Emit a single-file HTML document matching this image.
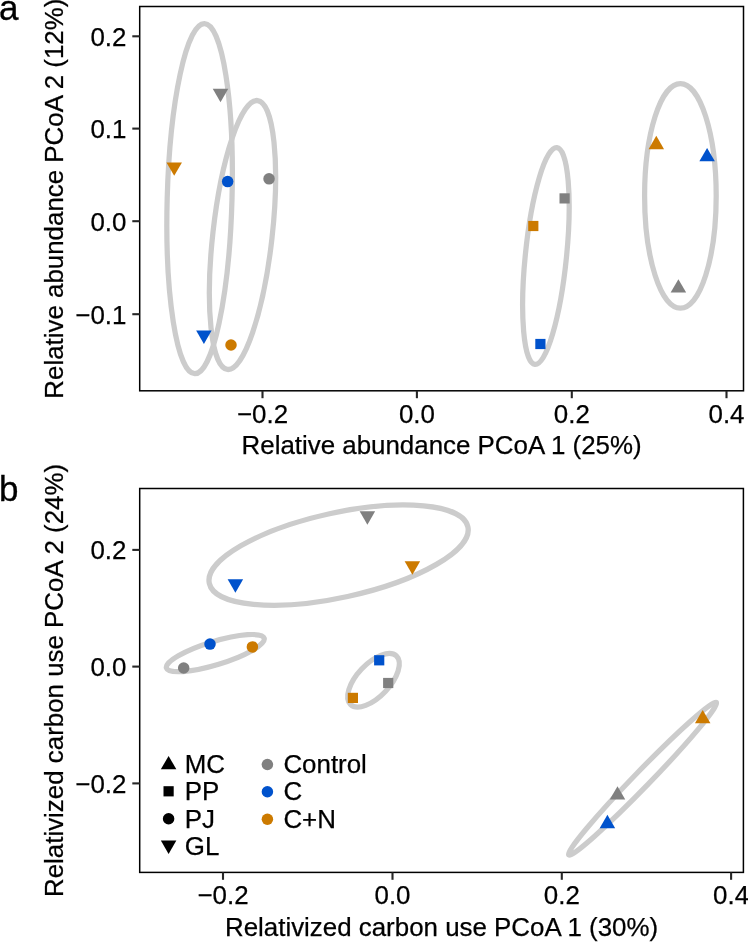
<!DOCTYPE html>
<html><head><meta charset="utf-8"><style>
html,body{margin:0;padding:0;background:#fff;}
body{width:748px;height:942px;overflow:hidden;}
svg{display:block;}
svg{will-change:transform;}
.t{font-family:"Liberation Sans",sans-serif;font-size:25.9px;fill:#000;stroke:#000;stroke-width:0.25px;}
.lab{font-family:"Liberation Sans",sans-serif;font-size:35px;fill:#000;stroke:#000;stroke-width:0.3px;}
</style></head><body>
<svg width="748" height="942" viewBox="0 0 748 942">
<rect width="748" height="942" fill="#fff"/>
<ellipse cx="199.60" cy="198.70" rx="175.07" ry="32.40" transform="rotate(91.59 199.60 198.70)" fill="none" stroke="#CCCCCC" stroke-width="5.25"/>
<ellipse cx="242.50" cy="235.00" rx="135.30" ry="29.65" transform="rotate(96.40 242.50 235.00)" fill="none" stroke="#CCCCCC" stroke-width="5.25"/>
<ellipse cx="545.90" cy="256.00" rx="108.94" ry="20.59" transform="rotate(95.79 545.90 256.00)" fill="none" stroke="#CCCCCC" stroke-width="5.25"/>
<ellipse cx="680.40" cy="195.90" rx="112.30" ry="35.80" transform="rotate(90.00 680.40 195.90)" fill="none" stroke="#CCCCCC" stroke-width="5.25"/>
<polygon points="220.50,102.15 228.25,88.73 212.75,88.73" fill="#808080"/>
<polygon points="174.20,175.85 181.95,162.43 166.45,162.43" fill="#CC7A00"/>
<circle cx="227.65" cy="181.60" r="5.75" fill="#0052CC"/>
<circle cx="269.05" cy="178.85" r="5.75" fill="#808080"/>
<polygon points="203.90,343.95 211.65,330.53 196.15,330.53" fill="#0052CC"/>
<circle cx="231.00" cy="345.00" r="5.75" fill="#CC7A00"/>
<rect x="528.20" y="220.90" width="10.20" height="10.20" fill="#CC7A00"/>
<rect x="559.50" y="193.30" width="10.20" height="10.20" fill="#808080"/>
<rect x="535.30" y="338.90" width="10.20" height="10.20" fill="#0052CC"/>
<polygon points="656.30,135.85 664.05,149.27 648.55,149.27" fill="#CC7A00"/>
<polygon points="707.10,147.90 714.85,161.32 699.35,161.32" fill="#0052CC"/>
<polygon points="678.40,279.15 686.15,292.57 670.65,292.57" fill="#808080"/>
<rect x="139.7" y="6.5" width="603.8" height="384.3" fill="none" stroke="#000" stroke-width="1.5"/>
<line x1="262.5" y1="390.8" x2="262.5" y2="398.2" stroke="#262626" stroke-width="2.1"/>
<text x="262.5" y="422.5" text-anchor="middle" class="t">−0.2</text>
<line x1="416.9" y1="390.8" x2="416.9" y2="398.2" stroke="#262626" stroke-width="2.1"/>
<text x="416.9" y="422.5" text-anchor="middle" class="t">0.0</text>
<line x1="571.8" y1="390.8" x2="571.8" y2="398.2" stroke="#262626" stroke-width="2.1"/>
<text x="571.8" y="422.5" text-anchor="middle" class="t">0.2</text>
<line x1="726.5" y1="390.8" x2="726.5" y2="398.2" stroke="#262626" stroke-width="2.1"/>
<text x="726.5" y="422.5" text-anchor="middle" class="t">0.4</text>
<line x1="132.29999999999998" y1="36.3" x2="139.7" y2="36.3" stroke="#262626" stroke-width="2.1"/>
<text x="126.4" y="45.6" text-anchor="end" class="t">0.2</text>
<line x1="132.29999999999998" y1="128.6" x2="139.7" y2="128.6" stroke="#262626" stroke-width="2.1"/>
<text x="126.4" y="137.9" text-anchor="end" class="t">0.1</text>
<line x1="132.29999999999998" y1="221.2" x2="139.7" y2="221.2" stroke="#262626" stroke-width="2.1"/>
<text x="126.4" y="230.5" text-anchor="end" class="t">0.0</text>
<line x1="132.29999999999998" y1="314.2" x2="139.7" y2="314.2" stroke="#262626" stroke-width="2.1"/>
<text x="126.4" y="323.5" text-anchor="end" class="t">−0.1</text>
<text x="441.6" y="453.7" text-anchor="middle" class="t">Relative abundance PCoA 1 (25%)</text>
<text transform="translate(62.8 198.65) rotate(-90)" x="0" y="0" text-anchor="middle" class="t">Relative abundance PCoA 2 (12%)</text>
<text x="-1" y="19.6" class="lab">a</text>
<ellipse cx="338.60" cy="555.10" rx="132.34" ry="42.34" transform="rotate(167.67 338.60 555.10)" fill="none" stroke="#CCCCCC" stroke-width="5.25"/>
<ellipse cx="215.30" cy="653.10" rx="51.10" ry="11.65" transform="rotate(163.06 215.30 653.10)" fill="none" stroke="#CCCCCC" stroke-width="5.25"/>
<ellipse cx="373.50" cy="680.25" rx="33.38" ry="16.34" transform="rotate(133.31 373.50 680.25)" fill="none" stroke="#CCCCCC" stroke-width="5.25"/>
<ellipse cx="642.55" cy="778.70" rx="106.15" ry="7.82" transform="rotate(134.08 642.55 778.70)" fill="none" stroke="#CCCCCC" stroke-width="5.25"/>
<polygon points="367.40,524.65 375.15,511.23 359.65,511.23" fill="#808080"/>
<polygon points="235.40,592.75 243.15,579.33 227.65,579.33" fill="#0052CC"/>
<polygon points="412.40,574.75 420.15,561.33 404.65,561.33" fill="#CC7A00"/>
<circle cx="210.00" cy="644.10" r="5.75" fill="#0052CC"/>
<circle cx="252.40" cy="646.90" r="5.75" fill="#CC7A00"/>
<circle cx="183.70" cy="668.00" r="5.75" fill="#808080"/>
<rect x="374.10" y="655.20" width="10.20" height="10.20" fill="#0052CC"/>
<rect x="383.10" y="677.90" width="10.20" height="10.20" fill="#808080"/>
<rect x="347.80" y="692.80" width="10.20" height="10.20" fill="#CC7A00"/>
<polygon points="702.70,709.90 710.45,723.32 694.95,723.32" fill="#CC7A00"/>
<polygon points="617.50,786.15 625.25,799.57 609.75,799.57" fill="#808080"/>
<polygon points="607.40,814.75 615.15,828.17 599.65,828.17" fill="#0052CC"/>
<rect x="139.7" y="488.5" width="603.7" height="383.9" fill="none" stroke="#000" stroke-width="1.5"/>
<line x1="223.0" y1="872.4" x2="223.0" y2="879.8" stroke="#262626" stroke-width="2.1"/>
<text x="223.0" y="904.0" text-anchor="middle" class="t">−0.2</text>
<line x1="392.5" y1="872.4" x2="392.5" y2="879.8" stroke="#262626" stroke-width="2.1"/>
<text x="392.5" y="904.0" text-anchor="middle" class="t">0.0</text>
<line x1="561.8" y1="872.4" x2="561.8" y2="879.8" stroke="#262626" stroke-width="2.1"/>
<text x="561.8" y="904.0" text-anchor="middle" class="t">0.2</text>
<line x1="731.1" y1="872.4" x2="731.1" y2="879.8" stroke="#262626" stroke-width="2.1"/>
<text x="731.1" y="904.0" text-anchor="middle" class="t">0.4</text>
<line x1="132.29999999999998" y1="549.9" x2="139.7" y2="549.9" stroke="#262626" stroke-width="2.1"/>
<text x="126.4" y="559.2" text-anchor="end" class="t">0.2</text>
<line x1="132.29999999999998" y1="666.6" x2="139.7" y2="666.6" stroke="#262626" stroke-width="2.1"/>
<text x="126.4" y="675.9" text-anchor="end" class="t">0.0</text>
<line x1="132.29999999999998" y1="783.4" x2="139.7" y2="783.4" stroke="#262626" stroke-width="2.1"/>
<text x="126.4" y="792.7" text-anchor="end" class="t">−0.2</text>
<text x="441.54999999999995" y="935.5" text-anchor="middle" class="t">Relativized carbon use PCoA 1 (30%)</text>
<text transform="translate(62.8 680.45) rotate(-90)" x="0" y="0" text-anchor="middle" class="t">Relativized carbon use PCoA 2 (24%)</text>
<text x="-1" y="500.5" class="lab">b</text>
<polygon points="168.60,755.90 176.35,769.32 160.85,769.32" fill="#000"/>
<text x="184.8" y="773.0" class="t">MC</text>
<rect x="163.50" y="786.20" width="10.20" height="10.20" fill="#000"/>
<text x="184.8" y="800.3" class="t">PP</text>
<circle cx="168.60" cy="818.70" r="5.75" fill="#000"/>
<text x="184.8" y="827.7" class="t">PJ</text>
<polygon points="168.60,854.02 176.35,840.60 160.85,840.60" fill="#000"/>
<text x="184.8" y="855.1" class="t">GL</text>
<circle cx="267.40" cy="764.50" r="5.75" fill="#808080"/>
<text x="283.4" y="773.0" class="t">Control</text>
<circle cx="267.40" cy="791.80" r="5.75" fill="#0052CC"/>
<text x="283.4" y="800.3" class="t">C</text>
<circle cx="267.40" cy="819.20" r="5.75" fill="#CC7A00"/>
<text x="283.4" y="827.7" class="t">C+N</text>
</svg>
</body></html>
